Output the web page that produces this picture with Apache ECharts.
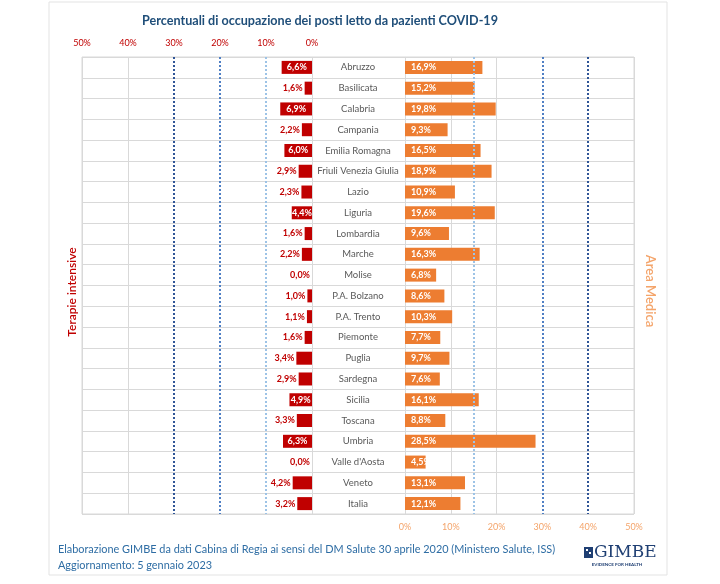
<!DOCTYPE html>
<html>
<head>
<meta charset="utf-8">
<script src="https://cdn.jsdelivr.net/npm/echarts@6/dist/echarts.min.js"></script>
<style>html,body{margin:0;padding:0;background:#fff;}#c{width:720px;height:584px;}</style>
</head>
<body>
<div id="c"></div>
<script>
const regions = ['Abruzzo','Basilicata','Calabria','Campania','Emilia Romagna','Friuli Venezia Giulia','Lazio','Liguria','Lombardia','Marche','Molise','P.A. Bolzano','P.A. Trento','Piemonte','Puglia','Sardegna','Sicilia','Toscana','Umbria',"Valle d'Aosta",'Veneto','Italia'];
const terapieIntensive = [6.6,1.6,6.9,2.2,6.0,2.9,2.3,4.4,1.6,2.2,0.0,1.0,1.1,1.6,3.4,2.9,4.9,3.3,6.3,0.0,4.2,3.2];
const areaMedica = [16.9,15.2,19.8,9.3,16.5,18.9,10.9,19.6,9.6,16.3,6.8,8.6,10.3,7.7,9.7,7.6,16.1,8.8,28.5,4.5,13.1,12.1];
const thresholdsTI = [10,20,30];
const thresholdsAM = [15,30,40];

const FONT = 'Lato';
const fmt = v => v.toFixed(1).replace('.', ',') + '%';
const thrColors = ['#9dc3e6','#4f7fc4','#2f5597'];

const chart = echarts.init(document.getElementById('c'), null, {renderer:'canvas'});

const gTop = 57, gHeight = 457;
const option = {
  backgroundColor:'#fff',
  animation:false,
  textStyle:{fontFamily:FONT},
  grid:[
    {left:82, width:230, top:gTop, height:gHeight},
    {left:405, width:229, top:gTop, height:gHeight},
    {left:82, width:552, top:gTop, height:gHeight, show:true, borderColor:'#d9d9d9', borderWidth:1, z:0}
  ],
  xAxis:[
    {gridIndex:0, type:'value', inverse:true, min:0, max:50, interval:10, position:'top',
     axisLine:{show:false}, axisTick:{show:false},
     axisLabel:{formatter:'{value}%', color:'#c00000', fontSize:9, margin:9, fontFamily:FONT},
     splitLine:{show:true, lineStyle:{color:['#d9d9d9','transparent','transparent','transparent','#d9d9d9','#d9d9d9'], width:1}}},
    {gridIndex:1, type:'value', min:0, max:50, interval:10, position:'bottom',
     axisLine:{show:false}, axisTick:{show:false},
     axisLabel:{formatter:'{value}%', color:'#f4a46a', fontSize:9, margin:9, fontFamily:FONT},
     splitLine:{show:true, lineStyle:{color:['#d9d9d9','#d9d9d9','#d9d9d9','transparent','transparent','#d9d9d9'], width:1}}},
    {gridIndex:2, type:'value', show:false, min:0, max:1}
  ],
  yAxis:[
    {gridIndex:0, type:'category', data:regions, inverse:true, position:'right',
     axisLine:{show:false}, axisTick:{show:false}, splitLine:{show:false},
     axisLabel:{align:'center', margin:46, color:'#595959', fontSize:9.5, fontFamily:FONT}},
    {gridIndex:1, type:'category', data:regions, inverse:true,
     axisLine:{show:false}, axisTick:{show:false}, axisLabel:{show:false}, splitLine:{show:false}},
    {gridIndex:2, type:'category', data:regions, inverse:true,
     axisLine:{show:false}, axisTick:{show:false}, axisLabel:{show:false},
     splitLine:{show:true, interval:0, lineStyle:{color:'#d9d9d9', width:1}}}
  ],
  series:[
    {type:'bar', xAxisIndex:0, yAxisIndex:0, data:terapieIntensive.map(v => ({
        value:v,
        label:v > 4.3
          ? {show:true, position:'inside', color:'#fff', fontWeight:'bold', fontSize:9, formatter:p=>fmt(p.value)}
          : {show:true, position:'left', distance:2, color:'#c00000', fontWeight:'bold', fontSize:9, formatter:p=>fmt(p.value)}
      })),
     barWidth:13, itemStyle:{color:'#c00000'}, z:3,
     markLine:{silent:true, symbol:'none', label:{show:false},
       data:thresholdsTI.map((t,i)=>({xAxis:t, lineStyle:{color:thrColors[i], type:'dotted', width:2}}))}
    },
    {type:'bar', xAxisIndex:1, yAxisIndex:1, data:areaMedica,
     barWidth:13, itemStyle:{color:'#ed7d31'}, z:3,
     label:{show:true, position:'insideLeft', distance:6, color:'#fff', fontWeight:'bold', fontSize:9, formatter:p=>fmt(p.value)},
     markLine:{silent:true, symbol:'none', label:{show:false},
       data:thresholdsAM.map((t,i)=>({xAxis:t, lineStyle:{color:thrColors[i], type:'dotted', width:2}}))}
    }
  ],
  graphic:[
    {type:'rect', shape:{x:49, y:2, width:618, height:573}, style:{fill:'none', stroke:'#e3e3e3', lineWidth:1}, z:-10},
    {type:'text', x:320, y:21, style:{text:'Percentuali di occupazione dei posti letto da pazienti COVID-19', fill:'#1f4e79', font:'bold 12.6px '+FONT, textAlign:'center', textVerticalAlign:'middle'}},
    {type:'text', x:72, y:292, rotation:Math.PI/2, style:{text:'Terapie intensive', fill:'#c00000', font:'600 12px '+FONT, textAlign:'center', textVerticalAlign:'middle'}},
    {type:'text', x:650, y:291, rotation:-Math.PI/2, style:{text:'Area Medica', fill:'#f4a46a', font:'600 13px '+FONT, textAlign:'center', textVerticalAlign:'middle'}},
    {type:'text', x:58, y:549, style:{text:'Elaborazione GIMBE da dati Cabina di Regia ai sensi del DM Salute 30 aprile 2020 (Ministero Salute, ISS)', fill:'#2e6da4', font:'10.9px '+FONT, textVerticalAlign:'middle'}},
    {type:'text', x:58, y:565, style:{text:'Aggiornamento: 5 gennaio 2023', fill:'#2e6da4', font:'10.9px '+FONT, textVerticalAlign:'middle'}},
    {type:'rect', shape:{x:584, y:547, width:9, height:11}, style:{fill:'#1f3f73'}},
    {type:'rect', shape:{x:586, y:549, width:2, height:2}, style:{fill:'#fff'}},
    {type:'rect', shape:{x:589, y:552, width:2, height:2}, style:{fill:'#fff'}},
    {type:'text', x:594, y:553, style:{text:'GIMBE', fill:'#1f3f73', font:'17px "DejaVu Serif"', textVerticalAlign:'middle'}},
    {type:'text', x:617, y:565, style:{text:'EVIDENCE FOR HEALTH', fill:'#1f3f73', font:'bold 4.5px '+FONT, textAlign:'center', textVerticalAlign:'middle'}}
  ]
};
chart.setOption(option);
</script>
</body>
</html>
